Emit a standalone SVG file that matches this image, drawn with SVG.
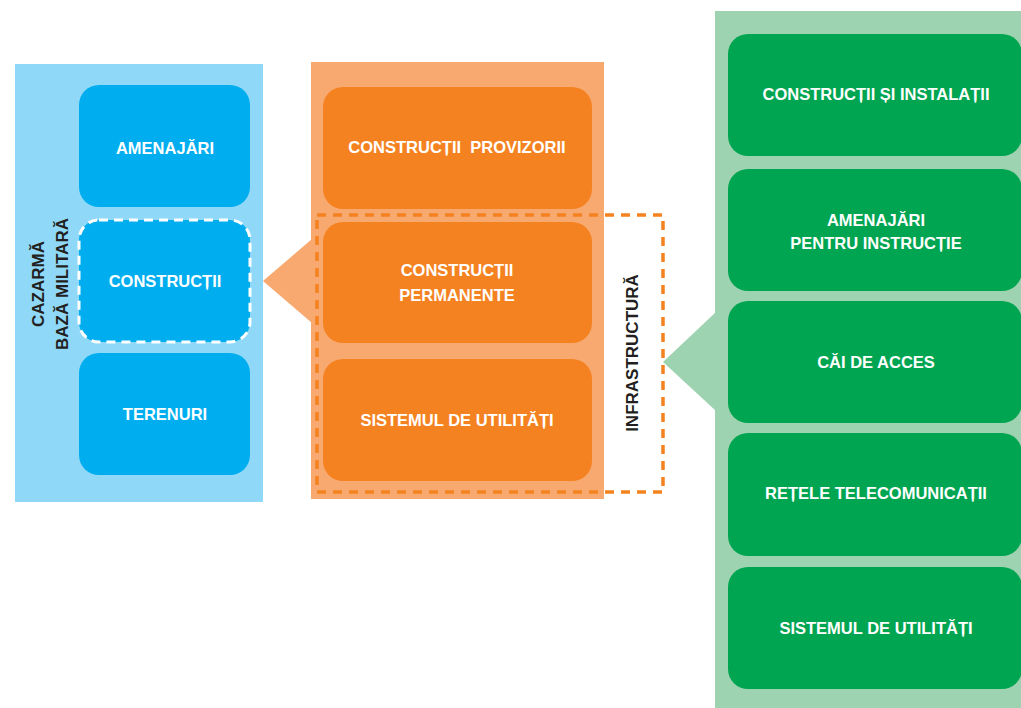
<svg xmlns="http://www.w3.org/2000/svg" width="1021" height="708" viewBox="0 0 1021 708">
<style>
text{font-family:"Liberation Sans",Arial,sans-serif;font-weight:bold;font-size:16.5px;text-anchor:middle}
.w{fill:#ffffff}
.d{fill:#231f20;font-size:17px}
.bbox{fill:#00aeef}
.obox{fill:#f58220}
.gbox{fill:#00a551}
</style>
<rect width="1021" height="708" fill="#ffffff"/>
<g id="panel-blue">
<rect x="15" y="64" width="248" height="438" fill="#8fd8f8"/>
<text class="d" x="44" y="284" transform="rotate(-90 44 284)">CAZARMĂ</text>
<text class="d" x="68" y="284" transform="rotate(-90 68 284)">BAZĂ MILITARĂ</text>
</g>
<g id="panel-orange">
<rect x="311" y="62" width="293" height="437" fill="#f7a970"/>
</g>
<g id="panel-green">
<rect x="715" y="11" width="310" height="700" fill="#9dd3b0"/>
</g>
<g id="connectors">
<polygon points="312,239 263,281 312,323" fill="#f7a970"/>
<polygon points="716,312 663,362 716,411" fill="#9dd3b0"/>
</g>
<g id="amenajari"><rect class="bbox" x="79" y="85" width="171" height="122" rx="20"/><text class="w" x="165" y="154">AMENAJĂRI</text></g>
<g id="constructii"><rect class="bbox" x="79" y="220" width="171" height="122" rx="20" stroke="#ffffff" stroke-width="3" stroke-dasharray="9 6"/><text class="w" x="165" y="287">CONSTRUCȚII</text></g>
<g id="terenuri"><rect class="bbox" x="79" y="353" width="171" height="122" rx="20"/><text class="w" x="165" y="420">TERENURI</text></g>
<g id="constructii-provizorii"><rect class="obox" x="323" y="87" width="269" height="122" rx="20"/><text class="w" x="457" y="153" xml:space="preserve">CONSTRUCȚII  PROVIZORII</text></g>
<g id="constructii-permanente"><rect class="obox" x="323" y="222" width="269" height="121" rx="20"/><text class="w" x="457" y="276">CONSTRUCȚII</text><text class="w" x="457" y="301">PERMANENTE</text></g>
<g id="sistemul-utilitati-o"><rect class="obox" x="323" y="359" width="269" height="122" rx="20"/><text class="w" x="457" y="426">SISTEMUL DE UTILITĂȚI</text></g>
<g id="infrastructura">
<rect x="317" y="215" width="346" height="277" fill="none" stroke="#f58220" stroke-width="3.5" stroke-dasharray="9 7"/>
<text class="d" x="638" y="353" transform="rotate(-90 638 353)">INFRASTRUCTURĂ</text>
</g>
<g id="constructii-instalatii"><rect class="gbox" x="728" y="34" width="294" height="122" rx="20"/><text class="w" x="876" y="100">CONSTRUCȚII ȘI INSTALAȚII</text></g>
<g id="amenajari-instructie"><rect class="gbox" x="728" y="169" width="294" height="122" rx="20"/><text class="w" x="876" y="226">AMENAJĂRI</text><text class="w" x="876" y="249">PENTRU INSTRUCȚIE</text></g>
<g id="cai-acces"><rect class="gbox" x="728" y="301" width="294" height="122" rx="20"/><text class="w" x="876" y="368">CĂI DE ACCES</text></g>
<g id="retele"><rect class="gbox" x="728" y="433" width="294" height="123" rx="20"/><text class="w" x="876" y="499">REȚELE TELECOMUNICAȚII</text></g>
<g id="sistemul-utilitati-g"><rect class="gbox" x="728" y="567" width="294" height="122" rx="20"/><text class="w" x="876" y="634">SISTEMUL DE UTILITĂȚI</text></g>
</svg>
